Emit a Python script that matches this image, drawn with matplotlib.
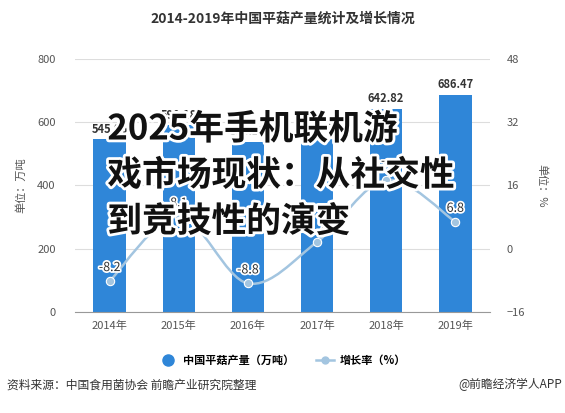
import matplotlib
matplotlib.use("Agg")
import matplotlib.pyplot as plt
import matplotlib.patheffects as pe
from matplotlib.path import Path
from matplotlib.patches import PathPatch
from matplotlib.lines import Line2D

plt.rcParams["font.family"] = ["Noto Sans CJK SC", "DejaVu Sans"]

years = ["2014年", "2015年", "2016年", "2017年", "2018年", "2019年"]
output = [545.96, 590.18, 538.25, 547.43, 642.82, 686.47]
growth = [-8.2, 8.1, -8.8, 1.7, 17.4, 6.8]
output_labels = ["545.96", "590.18", "538.25", "547.43", "642.82", "686.47"]
growth_labels = ["-8.2", "8.1", "-8.8", "1.7", "17.4", "6.8"]

bar_color = "#2f86d8"
line_color = "#a3c5e0"
grey = "#555555"

fig = plt.figure(figsize=(5.65, 4.13), dpi=100)
ax = fig.add_axes([0.133, 0.245, 0.734, 0.612])
ax2 = ax.twinx()

x = list(range(len(years)))
ax.bar(x, output, width=0.47, color=bar_color, zorder=2)
ax.set_xlim(-0.5, 5.5)
ax.set_ylim(0, 800)
ax.set_yticks([0, 200, 400, 600, 800])
ax.set_xticks(x)
ax.set_xticklabels(years)
ax.grid(axis="y", color="#dddddd", linewidth=0.8, zorder=0)
ax.set_axisbelow(True)
for s in ["top", "right", "left"]:
    ax.spines[s].set_visible(False)
ax.spines["bottom"].set_color("#999999")
ax.tick_params(axis="both", length=0, labelsize=8, colors=grey)
ax.tick_params(axis="x", pad=6)
ax.tick_params(axis="y", pad=14)
ax.set_ylabel("单位：万吨", fontsize=8, color=grey, labelpad=8)

for xi, v, lab in zip(x, output, output_labels):
    ax.text(xi, v + 12, lab, ha="center", va="bottom", fontsize=8,
            fontweight="bold", color="#333333", zorder=3)

ax2.set_ylim(-16, 48)
ax2.set_yticks([-16, 0, 16, 32, 48])
for s in ["top", "right", "left", "bottom"]:
    ax2.spines[s].set_visible(False)
ax2.tick_params(axis="y", length=0, labelsize=8, colors=grey, pad=12)
ax2.set_ylabel("单位：%", fontsize=8, color=grey, rotation=270, labelpad=16)

# smooth curve through the growth points (Catmull-Rom as cubic Bezier)
verts = [(x[0], growth[0])]
codes = [Path.MOVETO]
n = len(x)
for i in range(n - 1):
    p0 = (x[max(i - 1, 0)], growth[max(i - 1, 0)])
    p1 = (x[i], growth[i])
    p2 = (x[i + 1], growth[i + 1])
    p3 = (x[min(i + 2, n - 1)], growth[min(i + 2, n - 1)])
    c1 = (p1[0] + (p2[0] - p0[0]) / 6, p1[1] + (p2[1] - p0[1]) / 6)
    c2 = (p2[0] - (p3[0] - p1[0]) / 6, p2[1] - (p3[1] - p1[1]) / 6)
    verts += [c1, c2, p2]
    codes += [Path.CURVE4] * 3
ax2.add_patch(PathPatch(Path(verts, codes), facecolor="none",
                        edgecolor=line_color, linewidth=1.8, zorder=4))
ax2.plot(x, growth, linestyle="none", marker="o", markersize=6,
         color=line_color, markeredgecolor="white", markeredgewidth=0.8, zorder=5)
for xi, g, lab in zip(x, growth, growth_labels):
    ax2.annotate(lab, (xi, g), xytext=(0, 5), textcoords="offset points",
                 ha="center", va="bottom", fontsize=9, color="#333333", zorder=6,
                 path_effects=[pe.withStroke(linewidth=2.5, foreground="white")])

fig.text(0.5, 0.955, "2014-2019年中国平菇产量统计及增长情况", ha="center", va="center",
         fontsize=10, fontweight="bold", color="#333333")

handles = [
    Line2D([], [], linestyle="none", marker="o", markersize=8, color=bar_color),
    Line2D([], [], color=line_color, linewidth=1.8, marker="o", markersize=5),
]
fig.legend(handles, ["中国平菇产量（万吨）", "增长率（%）"], loc="center",
           bbox_to_anchor=(0.5, 0.128), ncol=2, frameon=False,
           handlelength=1.6, columnspacing=2.0, handletextpad=0.5,
           prop={"weight": "bold", "size": 8})

fig.text(0.012, 0.068, "资料来源：中国食用菌协会 前瞻产业研究院整理", ha="left",
         va="center", fontsize=8.5, color="#333333")
fig.text(0.995, 0.068, "@前瞻经济学人APP", ha="right", va="center",
         fontsize=8.5, color="#333333")

overlay = "2025年手机联机游\n戏市场现状：从社交性\n到竞技性的演变"
fig.text(0.19, 0.73, overlay, ha="left", va="top", fontsize=25,
         fontweight="bold", color="#111111", linespacing=1.4, zorder=10,
         path_effects=[pe.withStroke(linewidth=4, foreground="white")])

fig.savefig("out.png", dpi=100)
